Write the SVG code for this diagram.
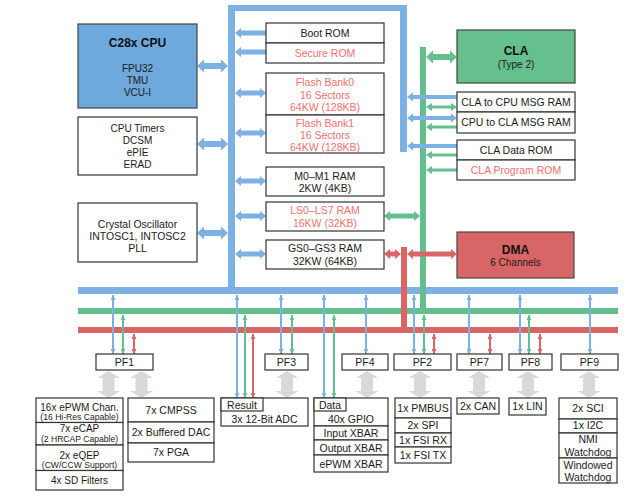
<svg xmlns="http://www.w3.org/2000/svg" xmlns:xlink="http://www.w3.org/1999/xlink" width="644" height="500" viewBox="0 0 644 500">
<style>
.box{fill:#fff;stroke:#333;stroke-width:1.2}
text{font-family:"Liberation Sans",Arial,Helvetica,sans-serif;font-size:10.5px;fill:#1a1a1a;text-anchor:middle}
.r{fill:#f07070}
.t{font-weight:bold;font-size:12px;fill:#111}
.s{font-size:8.6px}
.m{font-size:10px}
.bl{fill:#7db1e3}
.gr{fill:#64be8e}
.rd{fill:#d96666}
.gy{fill:#d9d9d9}
.lb{stroke:#7db1e3;stroke-width:2;fill:none;marker-start:url(#mb);marker-end:url(#mb)}
.lg{stroke:#64be8e;stroke-width:2;fill:none;marker-start:url(#mg);marker-end:url(#mg)}
.lr{stroke:#d96666;stroke-width:2;fill:none;marker-start:url(#mr);marker-end:url(#mr)}
</style>
<defs>
<marker id="mb" viewBox="0 0 6 6" refX="6" refY="3" markerWidth="5" markerHeight="5" markerUnits="userSpaceOnUse" orient="auto-start-reverse"><path d="M0,0 L6,3 L0,6 Z" fill="#7db1e3"/></marker>
<marker id="mg" viewBox="0 0 6 6" refX="6" refY="3" markerWidth="5" markerHeight="5" markerUnits="userSpaceOnUse" orient="auto-start-reverse"><path d="M0,0 L6,3 L0,6 Z" fill="#64be8e"/></marker>
<marker id="mr" viewBox="0 0 6 6" refX="6" refY="3" markerWidth="5" markerHeight="5" markerUnits="userSpaceOnUse" orient="auto-start-reverse"><path d="M0,0 L6,3 L0,6 Z" fill="#d96666"/></marker>
<path id="ga" d="M0,371 L11.5,378 L6,378 L6,391 L11.5,391 L0,398 L-11.5,391 L-6,391 L-6,378 L-11.5,378 Z"/>
</defs>

<g id="connectors">
  <!-- blue main frame and bus -->
  <rect class="bl" x="228" y="5" width="179" height="6"/>
  <rect class="bl" x="228" y="5" width="7" height="289"/>
  <rect class="bl" x="400" y="5" width="7" height="147"/>
  <rect class="bl" x="78" y="287" width="540" height="7"/>
  <!-- green and red buses -->
  <rect class="gr" x="78" y="308" width="540" height="6"/>
  <rect class="rd" x="78" y="327" width="540" height="6"/>
  <rect class="gr" x="420" y="47" width="6" height="267"/>
  <rect class="rd" x="401" y="247" width="6" height="86"/>

  <!-- CPU side arrows -->
  <path class="bl" d="M197,66 L204,59.5 L204,63 L221,63 L221,59.5 L228,66 L221,72.5 L221,69 L204,69 L204,72.5 Z"/>
  <path class="bl" d="M197,144 L204,137.5 L204,141 L221,141 L221,137.5 L228,144 L221,150.5 L221,147 L204,147 L204,150.5 Z"/>
  <path class="bl" d="M197,233 L204,226.5 L204,230 L221,230 L221,226.5 L228,233 L221,239.5 L221,236 L204,236 L204,239.5 Z"/>

  <!-- memory arrows -->
  <path class="bl" d="M235,33 L241,28 L241,30.5 L266,30.5 L266,35.5 L241,35.5 L241,38 Z"/>
  <path class="bl" d="M235,52 L241,47 L241,49.5 L266,49.5 L266,54.5 L241,54.5 L241,57 Z"/>
  <path class="bl" d="M235,93 L241,88 L241,90.5 L260,90.5 L260,88 L266,93 L260,98 L260,95.5 L241,95.5 L241,98 Z"/>
  <path class="bl" d="M235,133 L241,128 L241,130.5 L260,130.5 L260,128 L266,133 L260,138 L260,135.5 L241,135.5 L241,138 Z"/>
  <path class="bl" d="M235,181 L241,176 L241,178.5 L260,178.5 L260,176 L266,181 L260,186 L260,183.5 L241,183.5 L241,186 Z"/>
  <path class="bl" d="M235,216 L241,211 L241,213.5 L260,213.5 L260,211 L266,216 L260,221 L260,218.5 L241,218.5 L241,221 Z"/>
  <path class="bl" d="M235,254 L241,249 L241,251.5 L260,251.5 L260,249 L266,254 L260,259 L260,256.5 L241,256.5 L241,259 Z"/>

  <!-- LS / GS / DMA arrows -->
  <path class="gr" d="M384,216 L390,211 L390,213.5 L414,213.5 L414,211 L420,216 L414,221 L414,218.5 L390,218.5 L390,221 Z"/>
  <path class="rd" d="M384,254 L390,249 L390,251.5 L395,251.5 L395,249 L401,254 L395,259 L395,256.5 L390,256.5 L390,259 Z"/>
  <path class="rd" d="M407,254 L413,249 L413,251.5 L451,251.5 L451,249 L457,254 L451,259 L451,256.5 L413,256.5 L413,259 Z"/>

  <!-- CLA arrows -->
  <path class="gr" d="M426,57 L433,50.5 L433,54 L450,54 L450,50.5 L457,57 L450,63.5 L450,60 L433,60 L433,63.5 Z"/>
  <path class="gr" d="M426,107 L432,103 L432,105.5 L451,105.5 L451,103 L457,107 L451,111 L451,108.5 L432,108.5 L432,111 Z"/>
  <path class="gr" d="M426,127 L432,123 L432,125.5 L457,125.5 L457,128.5 L432,128.5 L432,131 Z"/>
  <path class="gr" d="M426,155 L432,151 L432,153.5 L457,153.5 L457,156.5 L432,156.5 L432,159 Z"/>
  <path class="gr" d="M426,170 L432,166 L432,168.5 L457,168.5 L457,171.5 L432,171.5 L432,174 Z"/>
  <path class="bl" d="M407,97 L413,92.5 L413,95 L457,95 L457,99 L413,99 L413,101.5 Z"/>
  <path class="bl" d="M407,118 L413,113.5 L413,116 L451,116 L451,113.5 L457,118 L451,122.5 L451,120 L413,120 L413,122.5 Z"/>
  <path class="bl" d="M407,146 L413,141.5 L413,144 L457,144 L457,148 L413,148 L413,150.5 Z"/>

  <!-- bus to peripheral lines -->
  <line class="lr" x1="134" y1="334" x2="134" y2="354"/>
  <line class="lr" x1="253" y1="334" x2="253" y2="398"/>
  <line class="lr" x1="434" y1="334" x2="434" y2="354"/>
  <line class="lr" x1="490" y1="334" x2="490" y2="354"/>
  <line class="lr" x1="540" y1="334" x2="540" y2="354"/>
  <line class="lg" x1="123" y1="315" x2="123" y2="354"/>
  <line class="lg" x1="245" y1="315" x2="245" y2="398"/>
  <line class="lg" x1="292" y1="315" x2="292" y2="354"/>
  <line class="lg" x1="334" y1="315" x2="334" y2="398"/>
  <line class="lg" x1="424" y1="315" x2="424" y2="354"/>
  <line class="lg" x1="529" y1="315" x2="529" y2="354"/>
  <line class="lb" x1="113" y1="295" x2="113" y2="354"/>
  <line class="lb" x1="237" y1="295" x2="237" y2="398"/>
  <line class="lb" x1="281" y1="295" x2="281" y2="354"/>
  <line class="lb" x1="324" y1="295" x2="324" y2="398"/>
  <line class="lb" x1="366" y1="295" x2="366" y2="354"/>
  <line class="lb" x1="414" y1="295" x2="414" y2="354"/>
  <line class="lb" x1="469" y1="295" x2="469" y2="354"/>
  <line class="lb" x1="520" y1="295" x2="520" y2="354"/>
  <line class="lb" x1="590" y1="295" x2="590" y2="354"/>

  <!-- gray peripheral arrows -->
  <g class="gy">
    <use xlink:href="#ga" x="108.5"/>
    <use xlink:href="#ga" x="141.5"/>
    <use xlink:href="#ga" x="287"/>
    <use xlink:href="#ga" x="367"/>
    <use xlink:href="#ga" x="420"/>
    <use xlink:href="#ga" x="479"/>
    <use xlink:href="#ga" x="528"/>
    <use xlink:href="#ga" x="589"/>
  </g>
</g>

<g id="cpu">
  <rect x="78" y="24" width="119" height="84" fill="#6fa8dc" stroke="#444" stroke-width="1.2"/>
  <text class="t" x="137.5" y="47">C28x CPU</text>
  <text class="m" x="137.5" y="72">FPU32</text>
  <text class="m" x="137.5" y="84">TMU</text>
  <text class="m" x="137.5" y="96">VCU-I</text>
</g>
<g id="timers">
  <rect class="box" x="78" y="117" width="119" height="58"/>
  <text class="m" x="137.5" y="132">CPU Timers</text>
  <text class="m" x="137.5" y="144">DCSM</text>
  <text class="m" x="137.5" y="156">ePIE</text>
  <text class="m" x="137.5" y="168">ERAD</text>
</g>
<g id="osc">
  <rect class="box" x="78" y="203" width="119" height="59"/>
  <text x="137.5" y="228">Crystal Oscillator</text>
  <text x="137.5" y="240">INTOSC1, INTOSC2</text>
  <text x="137.5" y="252">PLL</text>
</g>

<g id="bootrom">
  <rect class="box" x="266" y="23" width="118" height="20"/>
  <text x="325" y="37">Boot ROM</text>
</g>
<g id="securerom">
  <rect class="box" x="266" y="43" width="118" height="20"/>
  <text class="r" x="325" y="57">Secure ROM</text>
</g>
<g id="flash0">
  <rect class="box" x="266" y="73" width="118" height="42"/>
  <text class="r" x="325" y="86">Flash Bank0</text>
  <text class="r" x="325" y="99">16 Sectors</text>
  <text class="r" x="325" y="111">64KW (128KB)</text>
</g>
<g id="flash1">
  <rect class="box" x="266" y="115" width="118" height="38"/>
  <text class="r" x="325" y="127">Flash Bank1</text>
  <text class="r" x="325" y="139">16 Sectors</text>
  <text class="r" x="325" y="151">64KW (128KB)</text>
</g>
<g id="m0m1">
  <rect class="box" x="266" y="167" width="118" height="29"/>
  <text x="325" y="180">M0–M1 RAM</text>
  <text x="325" y="192">2KW (4KB)</text>
</g>
<g id="ls">
  <rect class="box" x="266" y="202" width="118" height="29"/>
  <text class="r" x="325" y="214">LS0–LS7 RAM</text>
  <text class="r" x="325" y="227">16KW (32KB)</text>
</g>
<g id="gs">
  <rect class="box" x="266" y="240" width="118" height="29"/>
  <text x="325" y="252">GS0–GS3 RAM</text>
  <text x="325" y="265">32KW (64KB)</text>
</g>

<g id="cla">
  <rect x="457" y="30" width="118" height="53" fill="#66c08e" stroke="#444" stroke-width="1.2"/>
  <text class="t" x="516" y="55">CLA</text>
  <text class="m" x="516" y="68">(Type 2)</text>
</g>
<g id="cla2cpu">
  <rect class="box" x="457" y="92" width="118" height="20"/>
  <text x="516" y="106">CLA to CPU MSG RAM</text>
</g>
<g id="cpu2cla">
  <rect class="box" x="457" y="112" width="118" height="21"/>
  <text x="516" y="126">CPU to CLA MSG RAM</text>
</g>
<g id="cladatarom">
  <rect class="box" x="457" y="140" width="118" height="20"/>
  <text x="516" y="154">CLA Data ROM</text>
</g>
<g id="claprogrom">
  <rect class="box" x="457" y="160" width="118" height="20"/>
  <text class="r" x="516" y="174">CLA Program ROM</text>
</g>
<g id="dma">
  <rect x="457" y="232" width="117" height="46" fill="#d96666" stroke="#444" stroke-width="1.2"/>
  <text class="t" x="515.5" y="254">DMA</text>
  <text class="m" x="515.5" y="266">6 Channels</text>
</g>

<g id="pf1"><rect class="box" x="96" y="354" width="57" height="16"/><text x="124.5" y="366">PF1</text></g>
<g id="pf3"><rect class="box" x="265" y="354" width="43" height="16"/><text x="286.5" y="366">PF3</text></g>
<g id="pf4"><rect class="box" x="342" y="354" width="46" height="16"/><text x="365" y="366">PF4</text></g>
<g id="pf2"><rect class="box" x="394" y="354" width="57" height="16"/><text x="422.5" y="366">PF2</text></g>
<g id="pf7"><rect class="box" x="457" y="354" width="45" height="16"/><text x="479.5" y="366">PF7</text></g>
<g id="pf8"><rect class="box" x="509" y="354" width="43" height="16"/><text x="530.5" y="366">PF8</text></g>
<g id="pf9"><rect class="box" x="561" y="354" width="57" height="16"/><text x="589.5" y="366">PF9</text></g>

<g id="epwm">
  <rect class="box" x="36" y="398" width="87" height="24.5"/>
  <rect class="box" x="36" y="422.5" width="87" height="22.5"/>
  <rect class="box" x="36" y="445" width="87" height="25.5"/>
  <rect class="box" x="36" y="470.5" width="87" height="19.5"/>
  <text class="m" x="79.5" y="411">16x ePWM Chan.</text>
  <text class="s" x="79.5" y="420">(16 Hi-Res Capable)</text>
  <text class="m" x="79.5" y="432">7x eCAP</text>
  <text class="s" x="79.5" y="442">(2 HRCAP Capable)</text>
  <text class="m" x="79.5" y="459">2x eQEP</text>
  <text class="s" x="79.5" y="468">(CW/CCW Support)</text>
  <text class="m" x="79.5" y="484">4x SD Filters</text>
</g>
<g id="cmpss">
  <rect class="box" x="128" y="398" width="86" height="24"/>
  <rect class="box" x="128" y="422" width="86" height="21"/>
  <rect class="box" x="128" y="443" width="86" height="19"/>
  <text x="171" y="414">7x CMPSS</text>
  <text x="171" y="436">2x Buffered DAC</text>
  <text x="171" y="456">7x PGA</text>
</g>
<g id="adc">
  <rect class="box" x="221" y="398" width="87" height="28"/>
  <rect class="box" x="221" y="398" width="42" height="13"/>
  <text x="242" y="408.5">Result</text>
  <text x="264.5" y="423">3x 12-Bit ADC</text>
</g>
<g id="gpio">
  <rect class="box" x="314" y="398" width="74" height="28"/>
  <rect class="box" x="314" y="426" width="74" height="14"/>
  <rect class="box" x="314" y="440" width="74" height="15"/>
  <rect class="box" x="314" y="455" width="74" height="17"/>
  <rect class="box" x="314" y="398" width="32" height="13"/>
  <text x="330" y="408.5">Data</text>
  <text x="351" y="423">40x GPIO</text>
  <text x="351" y="437">Input XBAR</text>
  <text x="351" y="452">Output XBAR</text>
  <text x="351" y="468">ePWM XBAR</text>
</g>
<g id="pmbus">
  <rect class="box" x="395" y="398" width="56" height="20"/>
  <rect class="box" x="395" y="418" width="56" height="15"/>
  <rect class="box" x="395" y="433" width="56" height="14"/>
  <rect class="box" x="395" y="447" width="56" height="16"/>
  <text x="423" y="412">1x PMBUS</text>
  <text x="423" y="429">2x SPI</text>
  <text x="423" y="444">1x FSI RX</text>
  <text x="423" y="459">1x FSI TX</text>
</g>
<g id="can">
  <rect class="box" x="457" y="398" width="42" height="16"/>
  <text x="478" y="410">2x CAN</text>
</g>
<g id="lin">
  <rect class="box" x="509" y="398" width="37" height="17"/>
  <text x="527.5" y="410">1x LIN</text>
</g>
<g id="sci">
  <rect class="box" x="559" y="398" width="58" height="21"/>
  <rect class="box" x="559" y="419" width="58" height="14"/>
  <rect class="box" x="559" y="433" width="58" height="25"/>
  <rect class="box" x="559" y="458" width="58" height="25"/>
  <text x="588" y="412">2x SCI</text>
  <text x="588" y="429">1x I2C</text>
  <text x="588" y="443">NMI</text>
  <text x="588" y="456">Watchdog</text>
  <text x="588" y="469">Windowed</text>
  <text x="588" y="481">Watchdog</text>
</g>
</svg>
